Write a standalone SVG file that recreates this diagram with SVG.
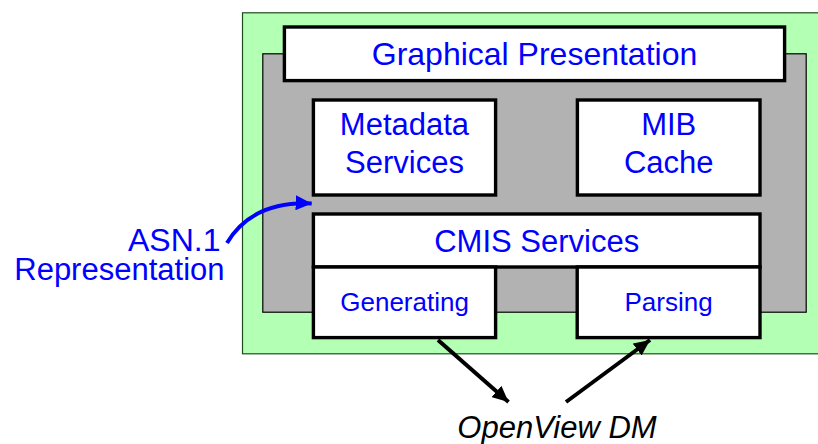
<svg xmlns="http://www.w3.org/2000/svg" width="818" height="444" viewBox="0 0 818 444">
  <style>
    .box { fill: #ffffff; stroke: #000000; stroke-width: 3.4; }
    .lbl { font-family: "Liberation Sans", Arial, sans-serif; fill: #0000ff; text-anchor: middle; }
    .big { font-size: 31px; }
    .small { font-size: 26px; }
    .side { font-family: "Liberation Sans", Arial, sans-serif; fill: #0000ff; text-anchor: end; }
    .ext { font-family: "Liberation Sans", Arial, sans-serif; font-style: italic; font-size: 31px; fill: #000000; text-anchor: middle; }
  </style>
  <defs>
    <marker id="headBlack" markerUnits="userSpaceOnUse" markerWidth="17" markerHeight="15" refX="16" refY="7.5" orient="auto">
      <path d="M0,0 L16,7.5 L0,15 z" fill="#000000"/>
    </marker>
    <marker id="headBlue" markerUnits="userSpaceOnUse" markerWidth="17" markerHeight="15" refX="16" refY="7.5" orient="auto">
      <path d="M0,0 L16,7.5 L0,15 z" fill="#0000ff"/>
    </marker>
  </defs>

  <!-- outer host area and inner component area -->
  <g id="host">
    <rect x="242.5" y="12.8" width="590" height="341" fill="#b3ffb3" stroke="#1e4d1e" stroke-width="1.2"/>
  </g>
  <g id="core">
    <rect x="262.8" y="53.8" width="543.4" height="258.4" fill="#b2b2b2" stroke="#000000" stroke-width="1.2"/>
  </g>

  <g id="graphical">
    <rect class="box" x="284.4" y="27" width="500.2" height="53.6"/>
    <text class="lbl" x="534.5" y="64.5" style="font-size:32px">Graphical Presentation</text>
  </g>

  <g id="metadata">
    <rect class="box" x="313.4" y="100" width="182.2" height="95"/>
    <text class="lbl big" x="404.5" y="135">Metadata</text>
    <text class="lbl big" x="404.5" y="173.3">Services</text>
  </g>

  <g id="mib">
    <rect class="box" x="577.4" y="100" width="182.6" height="95"/>
    <text class="lbl big" x="668.7" y="135">MIB</text>
    <text class="lbl big" x="668.7" y="173.3">Cache</text>
  </g>

  <g id="cmis">
    <rect class="box" x="313.4" y="214" width="446.6" height="53"/>
    <text class="lbl big" x="536.7" y="251.7">CMIS Services</text>
  </g>

  <g id="generating">
    <rect class="box" x="313.4" y="267" width="182.2" height="70.6"/>
    <text class="lbl small" x="404.6" y="311">Generating</text>
  </g>

  <g id="parsing">
    <rect class="box" x="577.2" y="267" width="182.8" height="70.6"/>
    <text class="lbl small" x="668.6" y="311">Parsing</text>
  </g>

  <g id="asn1">
    <text class="side" x="220.5" y="250.5" style="font-size:32px">ASN.1</text>
    <text class="side" x="224.5" y="280" style="font-size:31px">Representation</text>
  </g>

  <g id="openview">
    <text class="ext" x="557" y="437.5">OpenView DM</text>
  </g>

  <!-- connectors -->
  <g id="connectors" fill="none">
    <path d="M227,243 Q252,201 311.7,203.5" stroke="#0000ff" stroke-width="4" marker-end="url(#headBlue)"/>
    <line x1="438" y1="340" x2="508.5" y2="402" stroke="#000000" stroke-width="4" marker-end="url(#headBlack)"/>
    <line x1="566" y1="402" x2="650" y2="340" stroke="#000000" stroke-width="4" marker-end="url(#headBlack)"/>
  </g>
</svg>
